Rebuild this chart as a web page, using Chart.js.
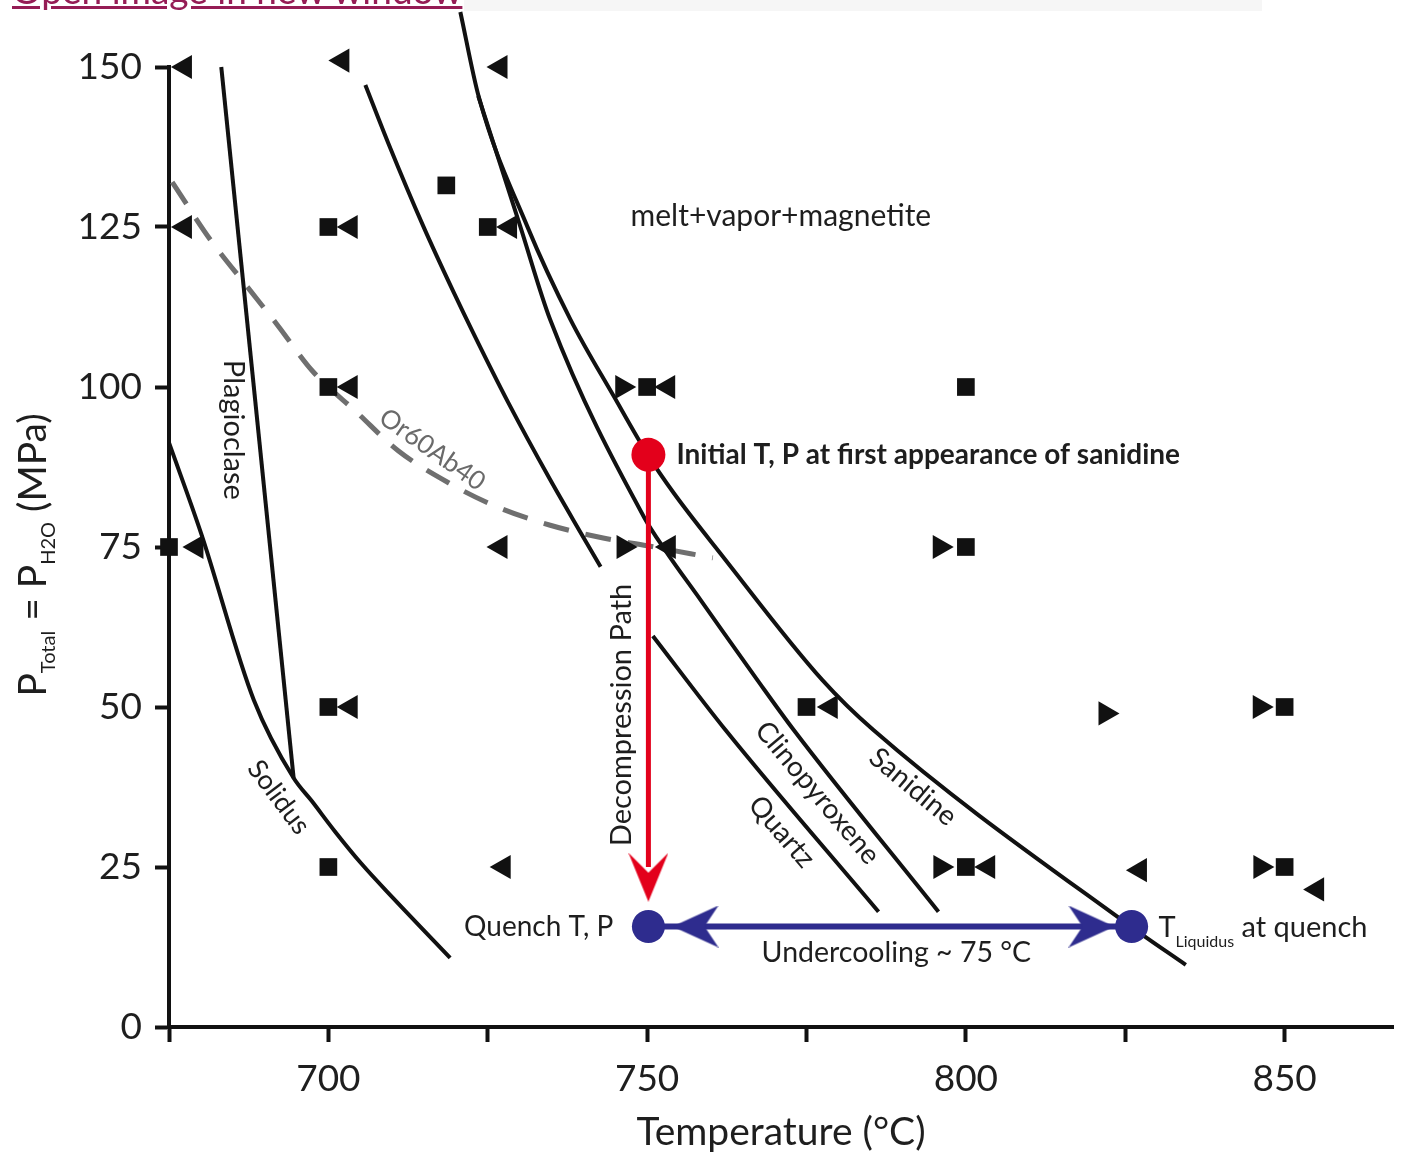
<!DOCTYPE html>
<html lang="en">
<head>
  <meta charset="UTF-8" />
  <title>Sanidine decompression diagram</title>
  <script src="https://cdn.jsdelivr.net/npm/chart.js"></script>
  <style>
    html, body { margin: 0; padding: 0; background: #fff; }
    body { width: 1403px; height: 1156px; position: relative; overflow: hidden; }
    #chart { position: absolute; left: 0; top: 0; }
    .topbar { position: absolute; left: 464px; top: 0; width: 798px; height: 11px; background: #f6f6f6; }
    .openlink { position: absolute; left: 12px; top: -29px; font: 37px/37px Lato, 'Open Sans', sans-serif; color: #951c55; text-decoration: underline; white-space: nowrap; }
  </style>
</head>
<body>
  <canvas id="chart" width="1403" height="1156"></canvas>
  <div class="topbar"></div>
  <a class="openlink" href="#">Open image in new window</a>

  <script>
    // axis ticks
    const xTicks = [675, 700, 725, 750, 775, 800, 825, 850];
    const xLabels = [700, 750, 800, 850];
    const yTicks = [0, 25, 50, 75, 100, 125, 150];

    // experiments: T (°C) and P (MPa)
    const squareT = [718.5, 700, 725, 700, 750, 800, 675, 800, 700, 775, 850, 700, 800, 850];
    const squareP = [131.5, 125, 125, 100, 100, 100, 75, 75, 50, 50, 50, 25, 25, 25];
    const leftT = [677.5, 702.2, 727, 677.5, 703.5, 728.5, 703.5, 753.3, 679.3, 727, 753.4, 703.5, 778.8, 727.5, 803.5, 827.3, 855.1];
    const leftP = [150, 151, 150, 125, 125, 125, 100, 100, 75, 75, 75, 50, 50, 25, 25, 24.5, 21.5];
    const rightT = [746.1, 746.3, 795.9, 821.9, 846.1, 796, 846.2];
    const rightP = [100, 75, 75, 49, 50, 25, 25];

    // phase boundaries
    const solidusT = [675, 680.05, 688.3, 694.55, 697.4, 701.0, 705.2, 710.2, 719.1];
    const solidusP = [91.3, 77.1, 51.1, 38.9, 35.3, 30.6, 25.5, 20.1, 10.8];
    const plagT = [683.2, 694.55];
    const plagP = [150, 38.9];
    const orAbT = [675.5, 681.5, 687, 692, 697.5, 704.5, 711, 718.9, 726.5, 734.8, 743.1, 750, 760.3];
    const orAbP = [132, 123, 116, 109.7, 102.5, 96, 90, 85, 81.25, 78.4, 76.4, 75.2, 73.3];
    const quartzT = [705.8, 709.4, 714.9, 719.7, 722.7, 728.2, 734.8, 739.6, 742.7, null, 750.9, 762.3, 786.3];
    const quartzP = [147.2, 138.1, 125.1, 114.7, 108.5, 97.6, 85.5, 77.2, 71.9, null, 61.1, 46.4, 18];
    const cpxT = [723.5, 730.1, 734.8, 749.5, 752.9, 758.4, 767.3, 773, 795.7];
    const cpxP = [145.5, 125.1, 110.5, 79.7, 74.4, 66.7, 54.2, 46.4, 18];
    const sanT = [720.7, 723.6, 731.2, 738.0, 744.8, 750.1, 754.2, 761.5, 777.5, 785.5, 826, 834.5];
    const sanP = [158.6, 145.3, 125.1, 110.5, 98.5, 89.4, 83.4, 74.0, 54.2, 46.4, 15.6, 9.7];

    // decompression / undercooling path
    const initialT = [750.2], initialP = [89.4];
    const endT = [750.2, 826], endP = [15.7, 15.7];
    const decompT = [750.2, 750.2], decompP = [89.4, 25];
    const underT = [752, 824], underP = [15.7, 15.7];
    const downHeadT = [750.2], downHeadP = [23.4];
    const sideHeadT = [757.6, 819.7], sideHeadP = [15.7, 15.7];

    const FONT = "Lato, 'Open Sans', sans-serif";
    const INK = '#1e1e1e';
    const RED = '#e3001b';
    const BLUE = '#2e2c8e';

    const notes = [
      { text: 'melt+vapor+magnetite', t: 747.4, p: 126.6, align: 'left', size: 30 },
      { text: 'Initial T, P at first appearance of sanidine', t: 754.6, p: 89.4, align: 'left', size: 28, weight: 'bold' },
      { text: 'Decompression Path', t: 746.0, p: 48.75, rot: -90, size: 29 },
      { text: 'Quench T, P', t: 744.7, p: 15.6, align: 'right', size: 28 },
      { text: 'Undercooling ~ 75 °C', t: 789.1, p: 11.6, size: 28.5 },
      { text: 'Plagioclase', t: 685.1, p: 93.3, rot: 90, size: 29 },
      { text: 'Or60Ab40', t: 716.3, p: 90.2, rot: 35, size: 26, color: '#6a6a6a' },
      { text: 'Solidus', t: 692.2, p: 35.9, rot: 53, size: 27 },
      { text: 'Clinopyroxene', t: 776.7, p: 36.6, rot: 50, size: 28 },
      { text: 'Quartz', t: 771.1, p: 30.5, rot: 49, size: 28 },
      { text: 'Sanidine', t: 791.7, p: 37.5, rot: 40, size: 28 }
    ];

    const pts = (ts, ps) => ts.map((t, i) => ({ x: t, y: ps[i] }));

    function arrowHead(len, wid, notch, color) {
      const c = document.createElement('canvas');
      c.width = len;
      c.height = wid;
      const g = c.getContext('2d');
      g.fillStyle = color;
      g.beginPath();
      g.moveTo(len, wid / 2);
      g.lineTo(0, 0);
      g.lineTo(notch, wid / 2);
      g.lineTo(0, wid);
      g.closePath();
      g.fill();
      return c;
    }

    function curve(ts, ps, extra) {
      return Object.assign({
        data: pts(ts, ps),
        showLine: true,
        pointRadius: 0,
        pointHoverRadius: 0,
        borderColor: '#111',
        borderWidth: 4,
        cubicInterpolationMode: 'monotone',
        capBezierPoints: false,
        clip: false
      }, extra || {});
    }

    function markers(ts, ps, style, radius, rotation, color) {
      return {
        data: pts(ts, ps),
        showLine: false,
        pointStyle: style,
        pointRadius: radius,
        pointHoverRadius: radius,
        pointRotation: rotation,
        pointBackgroundColor: color,
        pointBorderColor: color,
        pointBorderWidth: 0,
        clip: false
      };
    }

    function drawRich(ctx, parts, x, y, rot, align) {
      ctx.save();
      ctx.translate(x, y);
      ctx.rotate(rot * Math.PI / 180);
      ctx.textBaseline = 'alphabetic';
      ctx.textAlign = 'left';
      let w = 0;
      parts.forEach(pt => { ctx.font = pt.font; w += ctx.measureText(pt.text).width; });
      let cx = align === 'center' ? -w / 2 : 0;
      parts.forEach(pt => {
        ctx.font = pt.font;
        ctx.fillStyle = INK;
        ctx.fillText(pt.text, cx, pt.dy || 0);
        cx += ctx.measureText(pt.text).width;
      });
      ctx.restore();
    }

    const notesPlugin = {
      id: 'notes',
      afterDatasetsDraw(chart) {
        const { ctx, scales: { x, y }, chartArea } = chart;
        notes.forEach(n => {
          ctx.save();
          ctx.translate(x.getPixelForValue(n.t), y.getPixelForValue(n.p));
          ctx.rotate((n.rot || 0) * Math.PI / 180);
          ctx.font = (n.weight || 'normal') + ' ' + n.size + 'px ' + FONT;
          ctx.fillStyle = n.color || INK;
          ctx.textAlign = n.align || 'center';
          ctx.textBaseline = 'middle';
          ctx.fillText(n.text, 0, 0);
          ctx.restore();
        });

        // T_Liquidus at quench
        drawRich(ctx, [
          { text: 'T', font: '29px ' + FONT },
          { text: 'Liquidus', font: '16px ' + FONT, dy: 10 },
          { text: ' at quench', font: '29px ' + FONT }
        ], x.getPixelForValue(830.2), y.getPixelForValue(14.1), 0, 'left');

        // y axis title
        drawRich(ctx, [
          { text: 'P', font: '39px ' + FONT },
          { text: 'Total', font: '20px ' + FONT, dy: 9 },
          { text: ' = P', font: '39px ' + FONT },
          { text: 'H2O', font: '20px ' + FONT, dy: 9 },
          { text: ' (MPa)', font: '39px ' + FONT }
        ], 46, (chartArea.top + chartArea.bottom) / 2 + 8, -90, 'center');
      }
    };

    const datasets = [
      markers(initialT, initialP, 'circle', 17, 0, RED),
      markers(endT, endP, 'circle', 16.5, 0, BLUE),
      markers(downHeadT, downHeadP, arrowHead(49, 40, 20, RED), 20, 90, RED),
      markers(sideHeadT.slice(0, 1), sideHeadP.slice(0, 1), arrowHead(46, 42, 14, BLUE), 20, 180, BLUE),
      markers(sideHeadT.slice(1), sideHeadP.slice(1), arrowHead(46, 42, 14, BLUE), 20, 0, BLUE),
      curve(decompT, decompP, { borderColor: RED, borderWidth: 5, cubicInterpolationMode: 'default', tension: 0 }),
      curve(underT, underP, { borderColor: BLUE, borderWidth: 6, cubicInterpolationMode: 'default', tension: 0 }),
      markers(squareT, squareP, 'rect', 12.5, 0, '#111'),
      markers(leftT, leftP, 'triangle', 14, -90, '#111'),
      markers(rightT, rightP, 'triangle', 14, 90, '#111'),
      curve(solidusT, solidusP),
      curve(plagT, plagP, { cubicInterpolationMode: 'default', tension: 0 }),
      curve(quartzT, quartzP),
      curve(cpxT, cpxP),
      curve(sanT, sanP),
      curve(orAbT, orAbP, { borderColor: '#6f6f6f', borderWidth: 5, borderDash: [26, 17] })
    ];

    new Chart(document.getElementById('chart').getContext('2d'), {
      type: 'scatter',
      data: { datasets },
      options: {
        responsive: false,
        animation: false,
        devicePixelRatio: 1,
        events: [],
        layout: { autoPadding: false, padding: { top: 67, right: 10, bottom: 0, left: 0 } },
        plugins: { legend: { display: false }, tooltip: { enabled: false } },
        scales: {
          x: {
            type: 'linear',
            min: 675,
            max: 867,
            afterBuildTicks: s => { s.ticks = xTicks.map(v => ({ value: v })); },
            afterFit: s => { s.height = 129; s.paddingLeft = 0; s.paddingRight = 0; },
            ticks: {
              autoSkip: false,
              maxRotation: 0,
              padding: 15,
              color: INK,
              font: { family: FONT, size: 37 },
              callback: v => xLabels.includes(v) ? String(v) : ''
            },
            grid: { drawOnChartArea: false, tickLength: 15, tickWidth: 4, tickColor: '#111' },
            border: { display: true, color: '#111', width: 4 },
            title: {
              display: true,
              text: 'Temperature (°C)',
              color: INK,
              font: { family: FONT, size: 39 },
              padding: { top: 0, bottom: 0 }
            }
          },
          y: {
            type: 'linear',
            min: 0,
            max: 150,
            afterBuildTicks: s => { s.ticks = yTicks.map(v => ({ value: v })); },
            afterFit: s => { s.width = 169; s.paddingTop = 0; s.paddingBottom = 0; },
            ticks: {
              autoSkip: false,
              padding: 13,
              color: INK,
              font: { family: FONT, size: 37 }
            },
            grid: { drawOnChartArea: false, tickLength: 14, tickWidth: 4, tickColor: '#111' },
            border: { display: true, color: '#111', width: 4 }
          }
        }
      },
      plugins: [notesPlugin]
    });
  </script>
</body>
</html>
